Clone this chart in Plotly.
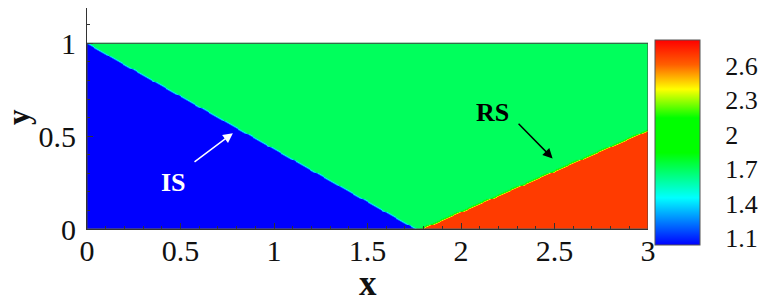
import numpy as np
import plotly.graph_objects as go

# ---- data ----
rho_pre = 1.0          # region below incident shock (blue)
rho_mid = 1.7          # region between shocks (green)
rho_ref = 2.687        # region behind reflected shock (red)
is_x = [0.0, 1.76]     # incident shock end points
is_y = [1.0, 0.0]
rs_x = [1.78, 3.0]     # reflected shock end points
rs_y = [0.0, 0.535]
cb_ticks = [1.1, 1.4, 1.7, 2.0, 2.3, 2.6]
cb_ticktext = ["1.1", "1.4", "1.7", "2", "2.3", "2.6"]
x_ticks = [0, 0.5, 1, 1.5, 2, 2.5, 3]
x_ticktext = ["0", "0.5", "1", "1.5", "2", "2.5", "3"]
y_ticks = [0, 0.5, 1]
y_ticktext = ["0", "0.5", "1"]

# ---- raster of the field (thin smeared shocks) ----
xg = np.linspace(0, 3, 601)
yg = np.linspace(0, 1, 201)
X, Y = np.meshgrid(xg, yg)
w = 0.012  # shock thickness


def signed_dist(lx, ly):
    dx, dy = lx[1] - lx[0], ly[1] - ly[0]
    n = np.hypot(dx, dy)
    return ((X - lx[0]) * (-dy) + (Y - ly[0]) * dx) / n * np.sign(dx)


f_pre = np.clip(0.5 - signed_dist(is_x, is_y) / w, 0, 1)
f_ref = np.clip(0.5 - signed_dist(rs_x, rs_y) / w, 0, 1)
Z = rho_mid + (rho_pre - rho_mid) * f_pre + (rho_ref - rho_mid) * f_ref

cmin, cmax = 1.04, 2.82
colorscale = [
    [0.0, "rgb(0,0,255)"],
    [0.23, "rgb(0,255,255)"],
    [0.45, "rgb(0,255,0)"],
    [0.62, "rgb(0,255,0)"],
    [0.76, "rgb(255,255,0)"],
    [0.88, "rgb(255,95,0)"],
    [1.0, "rgb(255,0,0)"],
]

font = "Liberation Serif"

fig = go.Figure()
fig.add_trace(go.Heatmap(
    x=xg, y=yg, z=Z, zsmooth="best",
    colorscale=colorscale, zmin=cmin, zmax=cmax,
    colorbar=dict(
        x=1.0125, xanchor="left", xpad=0,
        y=0.391, yanchor="middle", len=0.928, lenmode="fraction", ypad=0,
        thickness=45, thicknessmode="pixels",
        outlinewidth=1, outlinecolor="#555555",
        tickvals=cb_ticks, ticktext=cb_ticktext,
        ticks="outside", ticklen=20, tickcolor="rgba(0,0,0,0)",
        tickfont=dict(family=font, size=26, color="#111111"),
    ),
    showscale=True, hoverinfo="skip",
))

# domain border
fig.add_shape(type="rect", x0=0, x1=3, y0=0, y1=1, xref="x", yref="y",
              line=dict(color="#444444", width=1), fillcolor="rgba(0,0,0,0)")

# annotations
fig.add_annotation(x=0.78, y=0.516, ax=0.567, ay=0.355, axref="x", ayref="y",
                   xref="x", yref="y", text="", showarrow=True,
                   arrowhead=2, arrowsize=1.3, arrowwidth=1.5, arrowcolor="white")
fig.add_annotation(x=0.46, y=0.25, xref="x", yref="y", text="<b>IS</b>",
                   xanchor="center", yanchor="middle",
                   showarrow=False, font=dict(family=font, size=26, color="white"))
fig.add_annotation(x=2.49, y=0.38, ax=2.30, ay=0.575, axref="x", ayref="y",
                   xref="x", yref="y", text="", showarrow=True,
                   arrowhead=2, arrowsize=1.3, arrowwidth=1.5, arrowcolor="black")
fig.add_annotation(x=2.17, y=0.63, xref="x", yref="y", text="<b>RS</b>",
                   xanchor="center", yanchor="middle",
                   showarrow=False, font=dict(family=font, size=26, color="black"))

# axis titles
fig.add_annotation(x=0.5, y=-(283 - 229) / 221, xref="paper", yref="paper",
                   xanchor="center", yanchor="middle",
                   text="<b>x</b>", showarrow=False,
                   font=dict(family=font, size=35, color="#111111"))
fig.add_annotation(x=(18 - 87) / 561, y=(229 - 117) / 221, xref="paper", yref="paper",
                   xanchor="center", yanchor="middle",
                   text="<b>y</b>", showarrow=False, textangle=-90,
                   font=dict(family=font, size=31, color="#111111"))

fig.update_xaxes(range=[0, 3], tickvals=x_ticks, ticktext=x_ticktext,
                 ticks="inside", ticklen=6, tickcolor="#333333",
                 minor=dict(ticks="inside", ticklen=3, dtick=0.1, tickcolor="#333333"),
                 showline=True, linecolor="#333333", linewidth=1,
                 showgrid=False, zeroline=False, ticklabelstandoff=-5,
                 tickfont=dict(family=font, size=30, color="#111111"))
fig.update_yaxes(range=[0, 1.19], tickvals=y_ticks, ticktext=y_ticktext,
                 ticks="inside", ticklen=6, tickcolor="#333333",
                 minor=dict(ticks="inside", ticklen=3, dtick=0.1, tickcolor="#333333"),
                 showline=True, linecolor="#333333", linewidth=1,
                 showgrid=False, zeroline=False, ticklabelstandoff=4,
                 tickfont=dict(family=font, size=30, color="#111111"))

fig.update_layout(
    width=767, height=303,
    margin=dict(l=87, r=119, t=8, b=74),
    paper_bgcolor="white", plot_bgcolor="white",
    font=dict(family=font, size=26, color="#111111"),
    showlegend=False,
)

fig.write_html(
    "out.html",
    config={"displayModeBar": False},
    post_script="document.body.style.margin='0';document.body.style.overflow='hidden';",
)
